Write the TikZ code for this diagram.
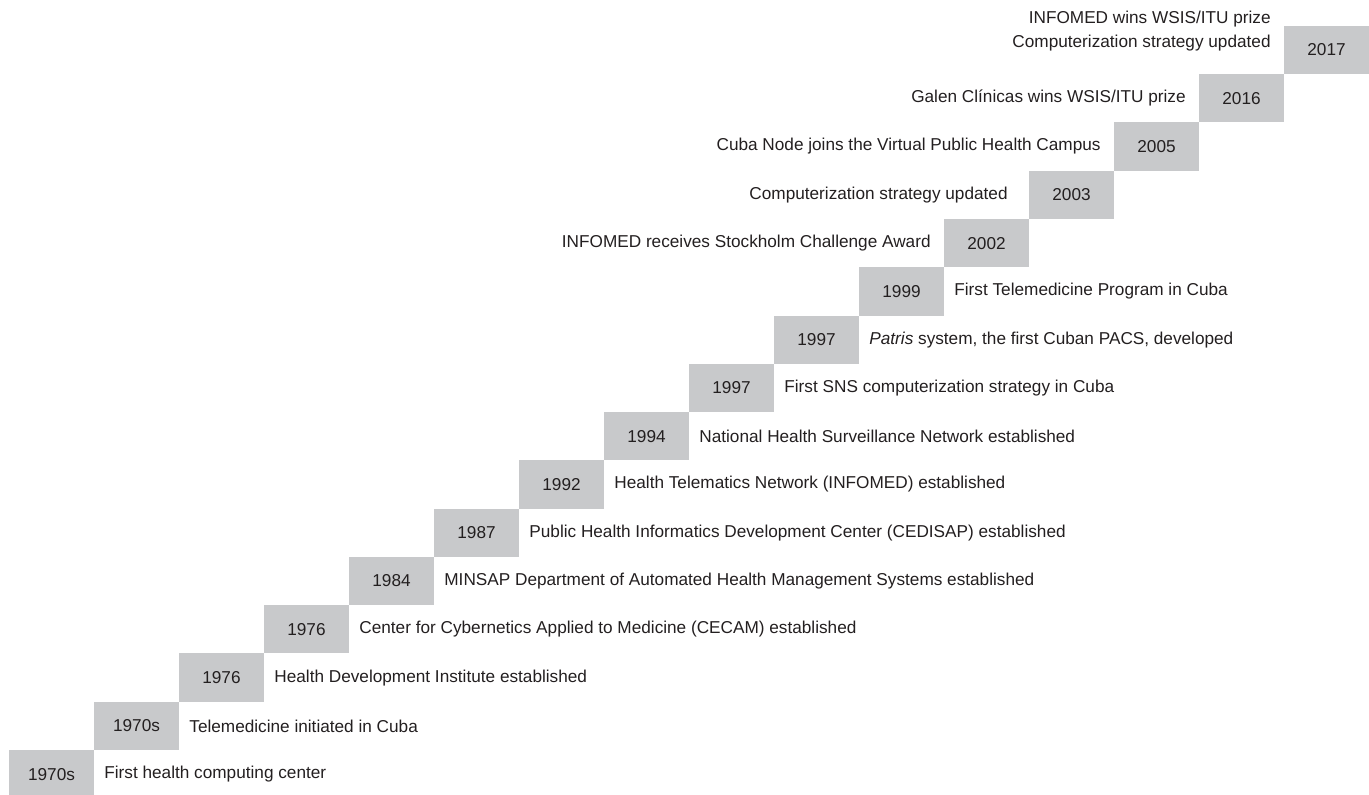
\documentclass[tikz,border=0pt]{standalone}
\usepackage{fontspec}
\setmainfont{Liberation Sans}
\usepackage{xcolor}
\usetikzlibrary{positioning}

\definecolor{yeargray}{RGB}{200,201,203}
\definecolor{inkgray}{RGB}{35,31,32}

\begin{document}
\begin{tikzpicture}[
        x=0.5pt, y=-0.5pt,
        every node/.style={font=\fontsize{8.6pt}{12pt}\selectfont, text=inkgray},
        yearbox/.style={rectangle, fill=yeargray, inner sep=0pt, outer sep=0pt, minimum width=42.5pt, minimum height=24.14pt, anchor=south west},
        eventr/.style={inner sep=0pt, right=5pt of #1},
        eventl/.style={inner sep=0pt, left=6.5pt of #1}
        ]
        \useasboundingbox (0,0) rectangle (1369,794);

        % staircase of years
        \node[yearbox] (y1) at (9,798.3) {1970s};
        \node[yearbox, above right=0pt and 0pt of y1] (y2) {1970s};
        \node[yearbox, above right=0pt and 0pt of y2] (y3) {1976};
        \node[yearbox, above right=0pt and 0pt of y3] (y4) {1976};
        \node[yearbox, above right=0pt and 0pt of y4] (y5) {1984};
        \node[yearbox, above right=0pt and 0pt of y5] (y6) {1987};
        \node[yearbox, above right=0pt and 0pt of y6] (y7) {1992};
        \node[yearbox, above right=0pt and 0pt of y7] (y8) {1994};
        \node[yearbox, above right=0pt and 0pt of y8] (y9) {1997};
        \node[yearbox, above right=0pt and 0pt of y9] (y10) {1997};
        \node[yearbox, above right=0pt and 0pt of y10] (y11) {1999};
        \node[yearbox, above right=0pt and 0pt of y11] (y12) {2002};
        \node[yearbox, above right=0pt and 0pt of y12] (y13) {2003};
        \node[yearbox, above right=0pt and 0pt of y13] (y14) {2005};
        \node[yearbox, above right=0pt and 0pt of y14] (y15) {2016};
        \node[yearbox, above right=0pt and 0pt of y15] (y16) {2017};

        % events to the right
        \node[eventr=y1] (e1) {First health computing center};
        \node[eventr=y2] (e2) {Telemedicine initiated in Cuba};
        \node[eventr=y3] (e3) {Health Development Institute established};
        \node[eventr=y4] (e4) {Center for Cybernetics Applied to Medicine (CECAM) established};
        \node[eventr=y5] (e5) {MINSAP Department of Automated Health Management Systems established};
        \node[eventr=y6] (e6) {Public Health Informatics Development Center (CEDISAP) established};
        \node[eventr=y7] (e7) {Health Telematics Network (INFOMED) established};
        \node[eventr=y8] (e8) {National Health Surveillance Network established};
        \node[eventr=y9] (e9) {First SNS computerization strategy in Cuba};
        \node[eventr=y10] (e10) {\textit{Patris} system, the first Cuban PACS, developed};
        \node[eventr=y11] (e11) {First Telemedicine Program in Cuba};

        % events to the left
        \node[eventl=y12] (e12) {INFOMED receives Stockholm Challenge Award};
        \node[eventl=y13, xshift=-4pt] (e13) {Computerization strategy updated};
        \node[eventl=y14] (e14) {Cuba Node joins the Virtual Public Health Campus};
        \node[eventl=y15] (e15) {Galen Clínicas wins WSIS/ITU prize};
        \node[eventl=y16, align=right, yshift=9.25pt] (e16) {INFOMED wins WSIS/ITU prize\\Computerization strategy updated};

    \end{tikzpicture}
\end{document}
